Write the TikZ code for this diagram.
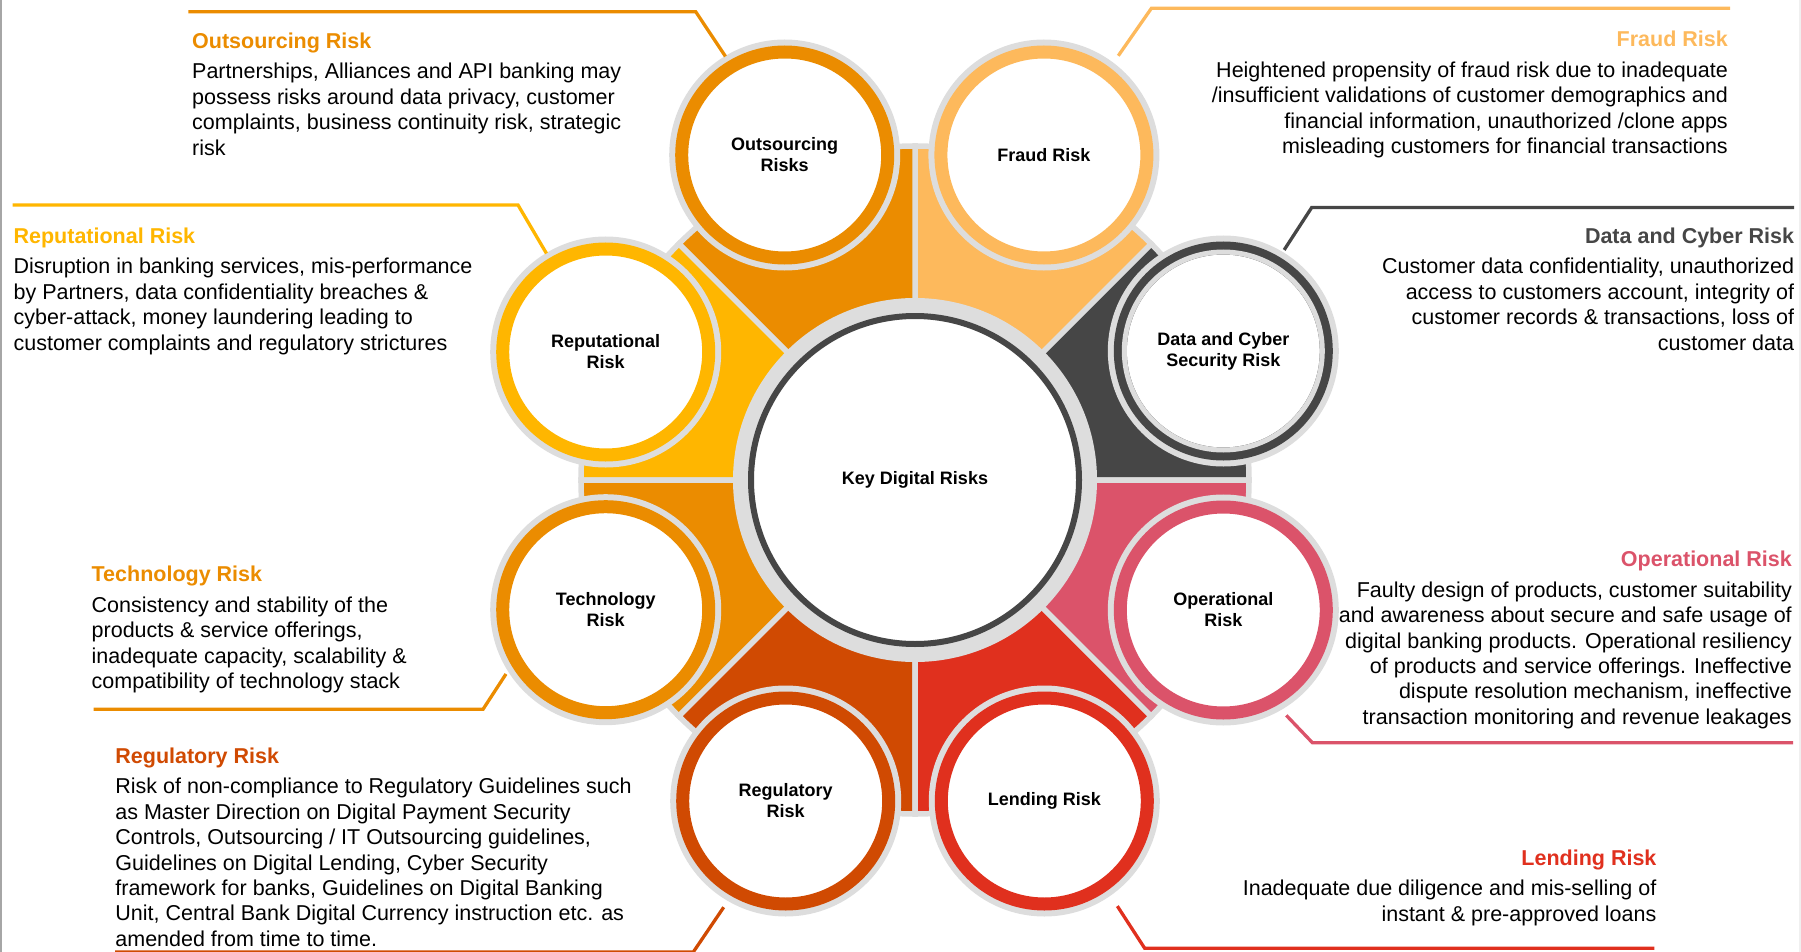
\documentclass[tikz,border=0pt]{standalone}
\usepackage{fontspec}
\setmainfont{Liberation Sans}
\usetikzlibrary{positioning}
\definecolor{outsC}{HTML}{EB8C00}
\definecolor{fraudC}{HTML}{FDB95C}
\definecolor{cyberC}{HTML}{464646}
\definecolor{operC}{HTML}{DB536A}
\definecolor{lendC}{HTML}{E0301E}
\definecolor{reguC}{HTML}{D04A02}
\definecolor{techC}{HTML}{EB8C00}
\definecolor{reputC}{HTML}{FFB600}
\definecolor{haloC}{HTML}{DDDDDD}
\newcommand{\bodysize}{\fontsize{21.5}{25.4}\selectfont}
\newcommand{\ringsize}{\fontsize{18}{21}\selectfont\bfseries}

\begin{document}
\begin{tikzpicture}[x=1pt, y=-1pt,
    petal/.style={draw=haloC, line width=5.5pt},
    riskc/.style={circle, minimum size=206pt, inner sep=0pt, outer sep=12pt,
      line width=13pt, draw=#1, fill=white,
      preaction={draw=haloC, line width=25pt}, font=\ringsize, align=center},
    leader/.style={line width=3.3pt, draw=#1},
    desc/.style={inner sep=0pt, font=\bodysize, align=#1},
  ]
  \useasboundingbox (0,0) rectangle (1801,952);

  % page edges
  \draw[gray!70, line width=2pt] (1,0) -- (1,952);
  \draw[gray!12, line width=2pt] (1800,0) -- (1800,952);

  % Petals behind the hub
  \coordinate (c) at (915,480);
  \foreach \a/\col in {0/cyberC, 45/fraudC, 90/outsC, 135/reputC,
      180/techC, 225/reguC, 270/lendC, 315/operC} {
    \filldraw[petal, fill=\col] (c) -- ++(-\a:334)
      arc[start angle=-\a, end angle=-\a-45, radius=334] -- cycle;
  }

  % Hub
  \node[circle, minimum size=328pt, inner sep=0pt, line width=6pt,
    draw=cyberC, fill=white, preaction={draw=haloC, line width=36pt},
    font=\ringsize] (key) at (c) {Key Digital Risks};

  % Risk circles
  \node[riskc=outsC] (outs) at (784.7,155) {Outsourcing\\Risks};
  \node[riskc=fraudC] (fraud) at (1043.9,155) {Fraud Risk};
  \node[riskc=reputC] (reput) at (605.7,352) {Reputational\\Risk};
  \node[riskc=cyberC] (cyber) at (1223.3,351) {Data and Cyber\\Security Risk};
  \draw[haloC, line width=5pt] (cyber.center) circle (99);
  \node[riskc=techC] (tech) at (605.7,609.7) {Technology\\Risk};
  \node[riskc=operC] (oper) at (1223.3,610) {Operational\\Risk};
  \node[riskc=reguC] (regu) at (785.7,801) {Regulatory\\Risk};
  \node[riskc=lendC] (lend) at (1044.3,801) {Lending Risk};

  % Leaders
  \coordinate (outs-a) at (188.4,11.7);  \coordinate (outs-b) at (695.7,11.7);
  \coordinate (fraud-a) at (1730,8.3);   \coordinate (fraud-b) at (1151.4,8.3);
  \coordinate (reput-a) at (12.5,205);   \coordinate (reput-b) at (518,205);
  \coordinate (cyber-a) at (1794,207.5); \coordinate (cyber-b) at (1311.7,207.5);
  \coordinate (tech-a) at (93.7,709.3);  \coordinate (tech-b) at (483,709.3);
  \coordinate (oper-a) at (1793,742.7);  \coordinate (oper-b) at (1312.4,742.7);
  \coordinate (regu-a) at (115,952);     \coordinate (regu-b) at (693.3,952);
  \coordinate (lend-a) at (1654.4,948.3);\coordinate (lend-b) at (1144.7,948.3);

  \draw[leader=outsC] (outs-a) -- (outs-b) -- (outs.121);
  \draw[leader=fraudC, shorten >=9pt] (fraud-a) -- (fraud-b) -- (fraud.53);
  \draw[leader=reputC] (reput-a) -- (reput-b) -- (reput.121);
  \draw[leader=cyberC, shorten >=3pt] (cyber-a) -- (cyber-b) -- (cyber.59);
  \draw[leader=techC, shorten >=4pt] (tech-a) -- (tech-b) -- (tech.212);
  \draw[leader=operC, shorten >=8pt] (oper-a) -- (oper-b) -- (oper.300);
  \draw[leader=reguC, shorten >=8pt] (regu-a) -- (regu-b) -- (regu.240);
  \draw[leader=lendC, shorten >=13pt] (lend-a) -- (lend-b) -- (lend.305);

  % Descriptions, left side
  \node[desc=left, anchor=north west] (outs-txt) at (192,32.8)
    {{\bfseries\color{outsC}Outsourcing Risk}\\[5pt]
     Partnerships, Alliances and API banking may\\
     possess risks around data privacy, customer\\
     complaints, business continuity risk, strategic\\
     risk};
  \node[desc=left, anchor=north west] (reput-txt) at (13.4,227.8)
    {{\bfseries\color{reputC}Reputational Risk}\\[5pt]
     Disruption in banking services, mis-performance\\
     by Partners, data confidentiality breaches \&\\
     cyber-attack, money laundering leading to\\
     customer complaints and regulatory strictures};
  \node[desc=left, anchor=north west] (tech-txt) at (91.5,566.2)
    {{\bfseries\color{techC}Technology Risk}\\[5pt]
     Consistency and stability of the\\
     products \& service offerings,\\
     inadequate capacity, scalability \&\\
     compatibility of technology stack};
  \node[desc=left, anchor=north west] (regu-txt) at (115.2,747.8)
    {{\bfseries\color{reguC}Regulatory Risk}\\[5pt]
     Risk of non-compliance to Regulatory Guidelines such\\
     as Master Direction on Digital Payment Security\\
     Controls, Outsourcing / IT Outsourcing guidelines,\\
     Guidelines on Digital Lending, Cyber Security\\
     framework for banks, Guidelines on Digital Banking\\
     Unit, Central Bank Digital Currency instruction etc. as\\
     amended from time to time.};

  % Descriptions, right side
  \node[desc=right, anchor=north east] (fraud-txt) at (1728,31.2)
    {{\bfseries\color{fraudC}Fraud Risk}\\[5pt]
     Heightened propensity of fraud risk due to inadequate\\
     /insufficient validations of customer demographics and\\
     financial information, unauthorized /clone apps\\
     misleading customers for financial transactions};
  \node[desc=right, anchor=north east] (cyber-txt) at (1794.3,227.8)
    {{\bfseries\color{cyberC}Data and Cyber Risk}\\[5pt]
     Customer data confidentiality, unauthorized\\
     access to customers account, integrity of\\
     customer records \& transactions, loss of\\
     customer data};
  \node[desc=right, anchor=north east] (oper-txt) at (1792,551.2)
    {{\bfseries\color{operC}Operational Risk}\\[5pt]
     Faulty design of products, customer suitability\\
     and awareness about secure and safe usage of\\
     digital banking products. Operational resiliency\\
     of products and service offerings. Ineffective\\
     dispute resolution mechanism, ineffective\\
     transaction monitoring and revenue leakages};
  \node[desc=right, anchor=north east] (lend-txt) at (1656.6,849.5)
    {{\bfseries\color{lendC}Lending Risk}\\[5pt]
     Inadequate due diligence and mis-selling of\\
     instant \& pre-approved loans};
\end{tikzpicture}
\end{document}
